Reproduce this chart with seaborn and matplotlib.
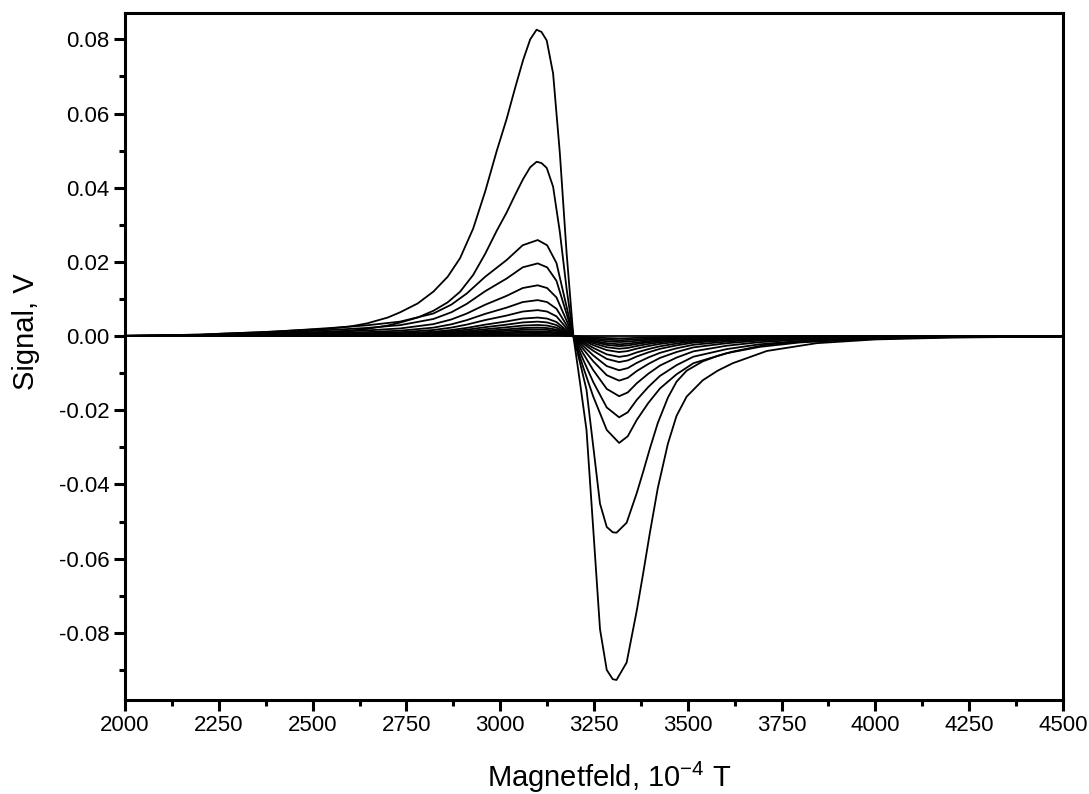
import numpy as np
import pandas as pd
import matplotlib
matplotlib.use("Agg")
import matplotlib.pyplot as plt
import seaborn as sns
from matplotlib.ticker import MultipleLocator, FormatStrFormatter

# ---- data ----
# template shape of the largest curve (field in 1e-4 T, signal in V)
field_large = [2000, 2100, 2200, 2266, 2350, 2466, 2533, 2600, 2644, 2700, 2733, 2780,
               2822, 2860, 2893, 2928, 2960, 2991, 3017, 3040, 3061, 3080, 3097, 3110,
               3124, 3141, 3159, 3177, 3195, 3212, 3230, 3248, 3266, 3284, 3300, 3310,
               3337, 3364, 3381, 3399, 3420, 3447, 3470, 3497, 3540, 3580, 3620, 3711,
               3844, 4000, 4200, 4500]
signal_large = [0.0001, 0.0002, 0.0004, 0.0007, 0.0010, 0.0016, 0.0019, 0.0026, 0.0034,
                0.0050, 0.0064, 0.0088, 0.0120, 0.0160, 0.0210, 0.0290, 0.0390, 0.0500,
                0.0585, 0.0670, 0.0744, 0.0800, 0.0826, 0.0820, 0.0797, 0.0708, 0.0493,
                0.0224, 0.0, -0.0120, -0.0253, -0.0520, -0.0790, -0.0900, -0.0925,
                -0.0927, -0.0880, -0.0740, -0.0640, -0.0530, -0.0410, -0.0290, -0.0215,
                -0.0163, -0.0119, -0.0093, -0.0073, -0.0040, -0.0019, -0.0009, -0.0004,
                -0.0001]

# template shape of the smaller curves
field_small = [2000, 2200, 2400, 2550, 2644, 2733, 2822, 2870, 2911, 2960, 3017, 3060,
               3100, 3125, 3150, 3177, 3195, 3220, 3248, 3284, 3317, 3340, 3364, 3395,
               3426, 3470, 3515, 3604, 3692, 3800, 4000, 4200, 4500]
signal_small = [0.0001, 0.0004, 0.0012, 0.0022, 0.0029, 0.0039, 0.0061, 0.0085, 0.0115,
                0.0160, 0.0205, 0.0245, 0.0259, 0.0245, 0.0197, 0.0079, 0.0, -0.0080,
                -0.0163, -0.0253, -0.0288, -0.0270, -0.0226, -0.0180, -0.0141, -0.0103,
                -0.0073, -0.0046, -0.0029, -0.0017, -0.0007, -0.0003, -0.0001]

# positive and negative peak amplitudes of each curve
pos_peaks = [0.0826, 0.0470, 0.0259, 0.0196, 0.0137, 0.0097, 0.0070, 0.0050, 0.0039,
             0.0030, 0.0023, 0.0018, 0.0013, 0.0010, 0.0006, 0.0003, 0.0]
neg_peaks = [-0.0927, -0.0530, -0.0288, -0.0219, -0.0162, -0.0120, -0.0092, -0.0070,
             -0.0056, -0.0043, -0.0034, -0.0027, -0.0022, -0.0016, -0.0011, -0.0006, 0.0]

x_ticks = [2000, 2250, 2500, 2750, 3000, 3250, 3500, 3750, 4000, 4250, 4500]
y_ticks = [-0.08, -0.06, -0.04, -0.02, 0.00, 0.02, 0.04, 0.06, 0.08]

# ---- build long table ----
rows = []
fl, sl = np.array(field_large), np.array(signal_large)
fs, ss = np.array(field_small), np.array(signal_small)
for i, (pp, npk) in enumerate(zip(pos_peaks, neg_peaks)):
    f, s = (fl, sl) if i < 2 else (fs, ss)
    pmax, nmin = s.max(), s.min()
    scaled = np.where(s >= 0, s / pmax * pp, s / nmin * npk)
    for a, b in zip(f, scaled):
        rows.append((i, a, b))
df = pd.DataFrame(rows, columns=["curve", "field", "signal"])

# ---- plot ----
sns.set_style("ticks")
plt.rcParams["font.family"] = ["Liberation Sans", "DejaVu Sans"]
plt.rcParams["mathtext.fontset"] = "custom"
plt.rcParams["mathtext.rm"] = "Liberation Sans"
plt.rcParams["text.color"] = "black"
plt.rcParams["axes.labelcolor"] = "black"
plt.rcParams["xtick.color"] = "black"
plt.rcParams["ytick.color"] = "black"
plt.rcParams["axes.edgecolor"] = "black"

fig = plt.figure(figsize=(10.89, 7.94), dpi=100)
ax = fig.add_axes([0.1148, 0.1184, 0.8613, 0.8652])

sns.lineplot(data=df, x="field", y="signal", units="curve", estimator=None,
             color="black", linewidth=1.3, ax=ax, sort=False)

ax.set_xlim(2000, 4500)
ax.set_ylim(-0.0981, 0.0871)
ax.set_xticks(x_ticks)
ax.set_yticks(y_ticks)
ax.xaxis.set_minor_locator(MultipleLocator(125))
ax.yaxis.set_minor_locator(MultipleLocator(0.01))
ax.yaxis.set_major_formatter(FormatStrFormatter("%.2f"))

for sp in ax.spines.values():
    sp.set_linewidth(2.2)
    sp.set_visible(True)
    sp.set_color("black")
ax.tick_params(which="major", direction="out", length=8, width=2.2, labelsize=16,
               pad=3, top=False, right=False, colors="black")
ax.tick_params(which="minor", direction="out", length=4.5, width=2.2, top=False,
               right=False, colors="black")

ax.set_xlabel("Magnetfeld, 10$^{-4}$ T", fontsize=21, labelpad=17, color="black")
ax.set_ylabel("Signal, V", fontsize=21, labelpad=14, color="black")
ax.xaxis.label.set_x(0.516)
ax.yaxis.label.set_y(0.536)

fig.savefig("out.png", dpi=100)
